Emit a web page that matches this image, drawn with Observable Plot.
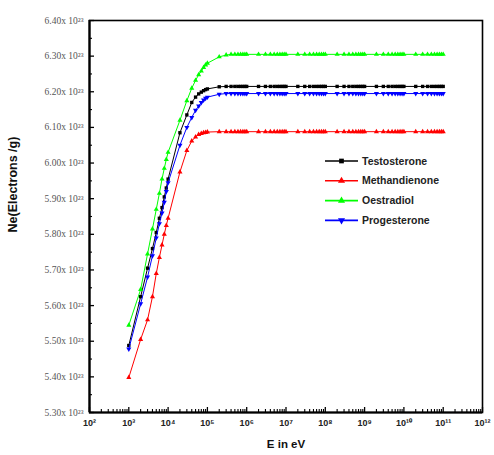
<!DOCTYPE html>
<html><head><meta charset="utf-8">
<script src="https://cdn.jsdelivr.net/npm/d3@7"></script>
<script src="https://cdn.jsdelivr.net/npm/@observablehq/plot@0.6"></script>
<style>body{margin:0;background:#fff}#chart{position:relative;width:494px;height:455px}</style>
</head><body><div id="chart"></div>
<script>
const seriesNames = ["Testosterone", "Methandienone", "Oestradiol", "Progesterone"];
const seriesColors = ["#000000", "#ff0000", "#00ff00", "#0000ff"];
const seriesSymbols = ["square", "triangle", "triangle", "triangleDown"];

// Energy in eV (9 points per decade, 1e3 .. 1e11)
const energy = [
  1e3,2e3,3e3,4e3,5e3,6e3,7e3,8e3,9e3,
  1e4,2e4,3e4,4e4,5e4,6e4,7e4,8e4,9e4,
  1e5,2e5,3e5,4e5,5e5,6e5,7e5,8e5,9e5,
  1e6,2e6,3e6,4e6,5e6,6e6,7e6,8e6,9e6,
  1e7,2e7,3e7,4e7,5e7,6e7,7e7,8e7,9e7,
  1e8,2e8,3e8,4e8,5e8,6e8,7e8,8e8,9e8,
  1e9,2e9,3e9,4e9,5e9,6e9,7e9,8e9,9e9,
  1e10,2e10,3e10,4e10,5e10,6e10,7e10,8e10,9e10,
  1e11
];

// Ne in units of 10^23 electrons/g
const testosterone = [
  5.488,5.625,5.705,5.760,5.805,5.845,5.875,5.905,5.930,
  5.955,6.085,6.135,6.170,6.185,6.194,6.199,6.203,6.206,
  6.208,6.214,6.215,6.215,6.215,6.215,6.215,6.215,6.215,
  6.215,6.215,6.215,6.215,6.215,6.215,6.215,6.215,6.215,
  6.215,6.215,6.215,6.215,6.215,6.215,6.215,6.215,6.215,
  6.215,6.215,6.215,6.215,6.215,6.215,6.215,6.215,6.215,
  6.215,6.215,6.215,6.215,6.215,6.215,6.215,6.215,6.215,
  6.215,6.215,6.215,6.215,6.215,6.215,6.215,6.215,6.215,
  6.215
];
const methandienone = [
  5.398,5.505,5.560,5.625,5.690,5.735,5.770,5.800,5.825,
  5.845,5.975,6.035,6.062,6.073,6.080,6.083,6.085,6.086,
  6.087,6.088,6.088,6.088,6.088,6.088,6.088,6.088,6.088,
  6.088,6.088,6.088,6.088,6.088,6.088,6.088,6.088,6.088,
  6.088,6.088,6.088,6.088,6.088,6.088,6.088,6.088,6.088,
  6.088,6.088,6.088,6.088,6.088,6.088,6.088,6.088,6.088,
  6.088,6.088,6.088,6.088,6.088,6.088,6.088,6.088,6.088,
  6.088,6.088,6.088,6.088,6.088,6.088,6.088,6.088,6.088,
  6.088
];
const oestradiol = [
  5.545,5.645,5.745,5.815,5.870,5.915,5.955,5.985,6.010,
  6.030,6.120,6.175,6.210,6.232,6.248,6.258,6.268,6.275,
  6.280,6.298,6.303,6.305,6.305,6.305,6.305,6.305,6.305,
  6.305,6.305,6.305,6.305,6.305,6.305,6.305,6.305,6.305,
  6.305,6.305,6.305,6.305,6.305,6.305,6.305,6.305,6.305,
  6.305,6.305,6.305,6.305,6.305,6.305,6.305,6.305,6.305,
  6.305,6.305,6.305,6.305,6.305,6.305,6.305,6.305,6.305,
  6.305,6.305,6.305,6.305,6.305,6.305,6.305,6.305,6.305,
  6.305
];
const progesterone = [
  5.478,5.605,5.680,5.740,5.790,5.830,5.860,5.890,5.920,
  5.945,6.050,6.100,6.128,6.148,6.160,6.170,6.177,6.182,
  6.185,6.193,6.195,6.195,6.195,6.195,6.195,6.195,6.195,
  6.195,6.195,6.195,6.195,6.195,6.195,6.195,6.195,6.195,
  6.195,6.195,6.195,6.195,6.195,6.195,6.195,6.195,6.195,
  6.195,6.195,6.195,6.195,6.195,6.195,6.195,6.195,6.195,
  6.195,6.195,6.195,6.195,6.195,6.195,6.195,6.195,6.195,
  6.195,6.195,6.195,6.195,6.195,6.195,6.195,6.195,6.195,
  6.195
];

const yTickValues = [5.30,5.40,5.50,5.60,5.70,5.80,5.90,6.00,6.10,6.20,6.30,6.40];
const yTickLabels = ["5.30x 10²³","5.40x 10²³","5.50x 10²³","5.60x 10²³","5.70x 10²³","5.80x 10²³",
                     "5.90x 10²³","6.00x 10²³","6.10x 10²³","6.20x 10²³","6.30x 10²³","6.40x 10²³"];
const xTickValues = [1e2,1e3,1e4,1e5,1e6,1e7,1e8,1e9,1e10,1e11,1e12];
const xTickLabels = ["10²","10³","10⁴","10⁵","10⁶","10⁷","10⁸","10⁹","10¹⁰","10¹¹","10¹²"];
const xLabel = "E in eV";
const yLabel = "Ne(Electrons /g)";

const yMinor = yTickValues.slice(0, -1).map(v => +(v + 0.05).toFixed(2));
const xMinor = xTickValues.slice(0, -1).flatMap(d => [2,3,4,5,6,7,8,9].map(m => m * d));

const triangleDown = {
  draw(ctx, size) {
    const y = -Math.sqrt(size / (Math.sqrt(3) * 3));
    ctx.moveTo(0, -y * 2);
    ctx.lineTo(-Math.sqrt(3) * y, y);
    ctx.lineTo(Math.sqrt(3) * y, y);
    ctx.closePath();
  }
};
const symbolFor = s => s === "triangleDown" ? triangleDown : s;

const seriesValues = [testosterone, methandienone, oestradiol, progesterone];
const rows = seriesNames.map((name, s) => energy.map((e, i) => ({E: e, v: seriesValues[s][i], series: name})));

const yLabelMap = new Map(yTickValues.map((v, i) => [v.toFixed(2), yTickLabels[i]]));
const xLabelMap = new Map(xTickValues.map((v, i) => [String(v), xTickLabels[i]]));

const W = 494, H = 455, ML = 89, MR = 12, MT = 20, MB = 43;
const FW = W - ML - MR, FH = H - MT - MB;

const marks = [
  // inward ticks
  Plot.tickY(yTickValues, {y: d => d, insetRight: FW - 5, stroke: "#000", strokeWidth: 1.3}),
  Plot.tickY(yMinor, {y: d => d, insetRight: FW - 3, stroke: "#000", strokeWidth: 1.1}),
  Plot.tickX(xTickValues, {x: d => d, insetTop: FH - 5, stroke: "#000", strokeWidth: 1.3}),
  Plot.tickX(xMinor, {x: d => d, insetTop: FH - 3, stroke: "#000", strokeWidth: 1.1}),
  Plot.axisY(yTickValues, {label: null, tickSize: 0, tickPadding: 6, tickFormat: d => yLabelMap.get(d.toFixed(2)),
    fontFamily: "Liberation Serif, Times New Roman, serif", fontSize: 9.5, fill: "#555"}),
  Plot.axisX(xTickValues, {label: null, tickSize: 0, tickPadding: 7, tickFormat: d => xLabelMap.get(String(d)),
    fontFamily: "Liberation Sans, Arial, sans-serif", fontSize: 9, fontWeight: "bold", fill: "#222"}),
  Plot.frame({stroke: "#000", strokeWidth: 1.6}),
  Plot.ruleX([xTickValues[0]], {stroke: "#000", strokeWidth: 2.2}),
  Plot.ruleY([yTickValues[0]], {stroke: "#000", strokeWidth: 2.2}),
  Plot.text([yLabel], {frameAnchor: "left", dx: -77, dy: 16, rotate: -90, fontSize: 12.5, fontWeight: "bold",
    fontFamily: "Liberation Sans, Arial, sans-serif", fill: "#111"}),
  Plot.text([xLabel], {frameAnchor: "bottom", dy: 35, fontSize: 11.5, fontWeight: "bold",
    fontFamily: "Liberation Sans, Arial, sans-serif", fill: "#111"})
];
rows.forEach((data, s) => {
  marks.push(Plot.line(data, {x: "E", y: "v", stroke: seriesColors[s], strokeWidth: 1}));
  marks.push(Plot.dot(data, {x: "E", y: "v", fill: seriesColors[s], stroke: "none",
    symbol: symbolFor(seriesSymbols[s]), r: 1.9}));
});

const chart = Plot.plot({
  width: W, height: H,
  marginLeft: ML, marginRight: MR, marginTop: MT, marginBottom: MB,
  style: {background: "#fff", overflow: "visible"},
  x: {type: "log", domain: [1e2, 1e12], axis: null},
  y: {domain: [5.30, 6.40], axis: null},
  marks
});
document.getElementById("chart").appendChild(chart);

// Legend inside the plot area
const svg = d3.select(chart);
const lg = svg.append("g").attr("transform", "translate(325,161)");
seriesNames.forEach((name, s) => {
  const g = lg.append("g").attr("transform", `translate(0,${s * 19.8})`);
  g.append("line").attr("x1", 0).attr("x2", 33).attr("y1", 0).attr("y2", 0)
    .attr("stroke", seriesColors[s]).attr("stroke-width", 1.6);
  const sym = seriesSymbols[s] === "square" ? d3.symbolSquare
            : seriesSymbols[s] === "triangle" ? d3.symbolTriangle : triangleDown;
  g.append("path").attr("d", d3.symbol(sym, 22)()).attr("transform", "translate(16.5,0)")
    .attr("fill", seriesColors[s]);
  g.append("text").attr("x", 37).attr("y", 0).attr("dy", "0.35em").attr("text-anchor", "start")
    .attr("font-family", "Liberation Sans, Arial, sans-serif").attr("font-size", 10.5)
    .attr("font-weight", "bold").attr("fill", "#222").text(name);
});
</script></body></html>
